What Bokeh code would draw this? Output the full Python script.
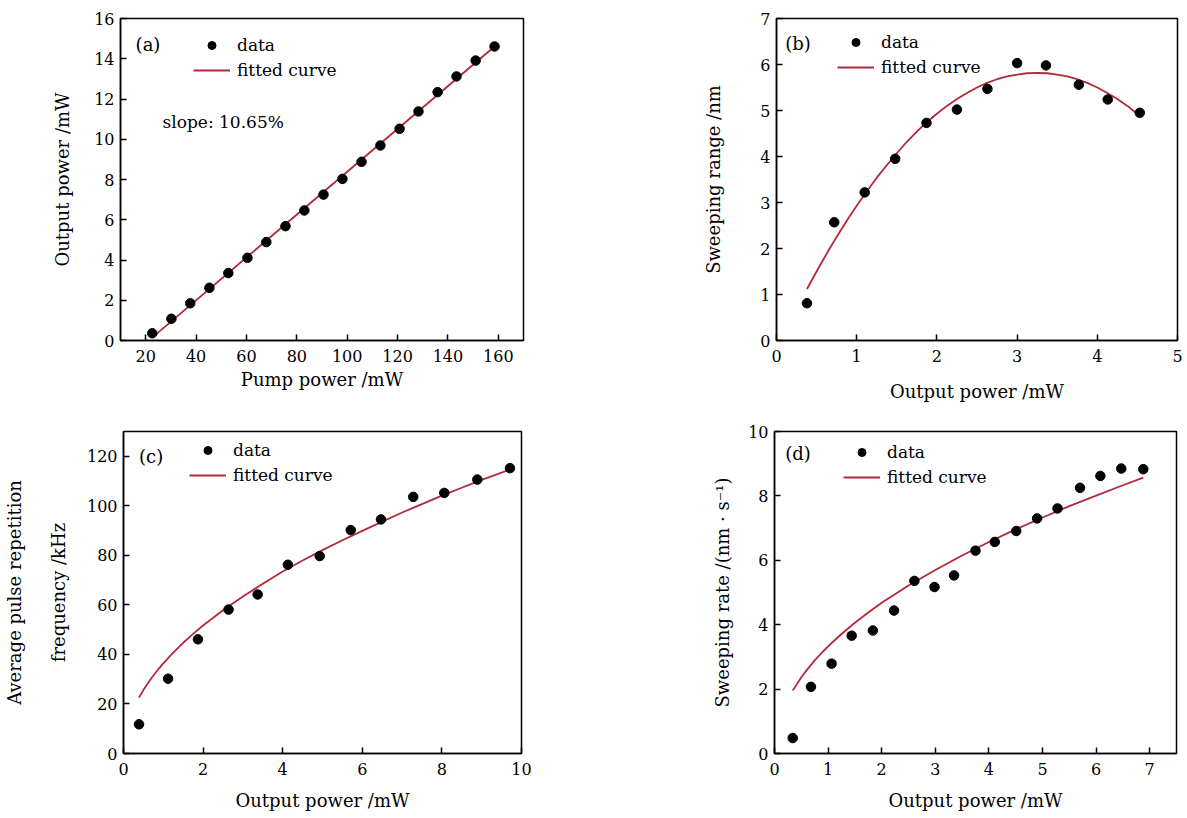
from bokeh.plotting import figure
from bokeh.layouts import column, row
from bokeh.models import Range1d, FixedTicker, Legend, LegendItem, Label
from bokeh.embed import file_html
from bokeh.resources import INLINE

# ---------------- data ----------------
# (a) output power vs pump power
a_pump = [22.6, 30.2, 37.7, 45.3, 52.8, 60.4, 67.9, 75.5, 83.0, 90.6,
          98.1, 105.7, 113.2, 120.8, 128.3, 135.9, 143.4, 151.0, 158.5]
a_out = [0.36, 1.08, 1.85, 2.62, 3.35, 4.11, 4.89, 5.68, 6.46, 7.25,
         8.03, 8.88, 9.69, 10.52, 11.38, 12.34, 13.12, 13.91, 14.61]
a_fit_x = [23.5, 158.5]
a_fit_y = [0.24, 14.61]

# (b) sweeping range vs output power
b_x = [0.38, 0.72, 1.10, 1.48, 1.87, 2.25, 2.63, 3.00, 3.36, 3.77, 4.13, 4.53]
b_y = [0.81, 2.57, 3.22, 3.95, 4.73, 5.02, 5.47, 6.03, 5.98, 5.56, 5.24, 4.95]
b_fit_x = [0.38, 0.5, 0.6, 0.7, 0.8, 0.9, 1.0, 1.125, 1.25, 1.375, 1.5, 1.625, 1.75,
           1.875, 2.0, 2.125, 2.25, 2.375, 2.5, 2.625, 2.75, 2.875, 3.0, 3.125,
           3.25, 3.375, 3.5, 3.625, 3.75, 3.875, 4.0, 4.125, 4.25, 4.375, 4.53]
b_fit_y = [1.12, 1.50, 1.81, 2.11, 2.39, 2.67, 2.93, 3.24, 3.54, 3.81, 4.07, 4.32, 4.54,
           4.75, 4.93, 5.10, 5.25, 5.38, 5.50, 5.60, 5.68, 5.74, 5.78, 5.81,
           5.82, 5.81, 5.78, 5.74, 5.68, 5.60, 5.50, 5.38, 5.25, 5.10, 4.88]

# (c) average pulse repetition frequency vs output power
c_x = [0.39, 1.12, 1.87, 2.64, 3.37, 4.13, 4.93, 5.71, 6.47, 7.28, 8.06, 8.89, 9.71]
c_y = [11.8, 30.2, 46.1, 58.1, 64.2, 76.2, 79.7, 90.2, 94.5, 103.6, 105.2, 110.6, 115.2]
c_fit_x = [0.39, 0.5, 0.6, 0.7, 0.8, 0.9, 1.0, 1.25, 1.5, 1.75, 2.0, 2.5, 3.0, 3.5,
           4.0, 4.5, 5.0, 5.5, 6.0, 6.5, 7.0, 7.5, 8.0, 8.5, 9.0, 9.71]
c_fit_y = [22.6, 25.6, 28.1, 30.4, 32.5, 34.5, 36.4, 40.7, 44.7, 48.3, 51.7, 57.8,
           63.4, 68.5, 73.5, 77.9, 82.1, 86.1, 89.9, 93.6, 97.3, 100.7, 104.1,
           107.3, 110.5, 114.6]

# (d) sweeping rate vs output power
d_x = [0.34, 0.68, 1.065, 1.44, 1.835, 2.23, 2.61, 2.985, 3.35, 3.75, 4.11, 4.51,
       4.90, 5.28, 5.70, 6.08, 6.47, 6.88]
d_y = [0.48, 2.07, 2.79, 3.66, 3.82, 4.44, 5.36, 5.17, 5.53, 6.30, 6.57, 6.91,
       7.30, 7.61, 8.25, 8.62, 8.85, 8.83]
d_fit_x = [0.34, 0.42, 0.5, 0.6, 0.75, 0.9, 1.0, 1.25, 1.5, 1.75, 2.0, 2.5, 3.0, 3.5,
           4.0, 4.5, 5.0, 5.5, 6.0, 6.5, 6.88]
d_fit_y = [1.96, 2.16, 2.37, 2.59, 2.89, 3.16, 3.33, 3.71, 4.06, 4.38, 4.68, 5.22,
           5.70, 6.15, 6.57, 6.96, 7.33, 7.68, 8.01, 8.33, 8.57]

FONT = "DejaVu Serif"
RED = "#B22A3A"


def make_panel(w, h, bl, br, bt, bb, xr, yr, xticks, yticks, xlabel, ylabel,
               xs, ys, fx, fy, tag, tag_xy, leg_loc, ylab_standoff, xlab_standoff):
    p = figure(width=w, height=h, output_backend="svg", toolbar_location=None,
               x_range=Range1d(*xr), y_range=Range1d(*yr),
               min_border_left=bl, min_border_right=br,
               min_border_top=bt, min_border_bottom=bb)
    p.grid.visible = False
    p.outline_line_color = "black"
    p.outline_line_width = 1.5
    p.outline_line_alpha = 1.0
    p.background_fill_color = "white"
    p.border_fill_color = "white"
    for ax, ticks, lab, so, lso in ((p.xaxis[0], xticks, xlabel, xlab_standoff, 9),
                                    (p.yaxis[0], yticks, ylabel, ylab_standoff, 6)):
        ax.ticker = FixedTicker(ticks=ticks)
        ax.axis_label = lab
        ax.axis_label_text_font = FONT
        ax.axis_label_text_font_size = "18px"
        ax.axis_label_text_font_style = "normal"
        ax.axis_label_text_color = "black"
        ax.axis_label_standoff = so
        ax.axis_label_text_line_height = 2.1
        ax.major_label_text_font = FONT
        ax.major_label_text_font_size = "16px"
        ax.major_label_text_color = "black"
        ax.major_label_standoff = lso
        ax.major_tick_in = 6
        ax.major_tick_out = 0
        ax.major_tick_line_width = 1.5
        ax.major_tick_line_color = "black"
        ax.minor_tick_line_color = None
        ax.axis_line_width = 1.5
        ax.axis_line_color = "black"

    ln = p.line(fx, fy, line_color=RED, line_width=1.8)
    sc = p.scatter(xs, ys, size=9.5, fill_color="black", line_color="black")

    leg = Legend(items=[LegendItem(label="data", renderers=[sc]),
                        LegendItem(label="fitted curve", renderers=[ln])],
                 location=leg_loc)
    leg.background_fill_alpha = 0
    leg.border_line_color = None
    leg.padding = 0
    leg.margin = 0
    leg.spacing = 5
    leg.glyph_width = 37
    leg.glyph_height = 20
    leg.label_height = 20
    leg.label_standoff = 7
    leg.label_text_font = FONT
    leg.label_text_font_size = "17px"
    leg.label_text_color = "black"
    p.add_layout(leg)

    p.add_layout(Label(x=tag_xy[0], y=tag_xy[1], text=tag, text_font=FONT,
                       text_font_size="18px", text_baseline="middle",
                       text_align="left", text_color="black"))
    return p


pa = make_panel(560, 409, 120, 37, 18, 69, (10, 170), (0, 16),
                list(range(20, 161, 20)), list(range(0, 17, 2)),
                "Pump power /mW", "Output power /mW",
                a_pump, a_out, a_fit_x, a_fit_y, "(a)", (16, 14.7), (73, 260), 18, 4)
pa.add_layout(Label(x=26.7, y=10.85, text="slope: 10.65%", text_font=FONT,
                    text_font_size="17px", text_baseline="middle",
                    text_align="left", text_color="black"))

pb = make_panel(627, 409, 216, 10, 18, 69, (0, 5), (0, 7),
                list(range(0, 6)), list(range(0, 8)),
                "Output power /mW", "Sweeping range /nm",
                b_x, b_y, b_fit_x, b_fit_y, "(b)", (0.11, 6.45), (61, 263), 33, 16)

pc = make_panel(560, 409, 120, 39, 22, 65, (0, 10), (0, 130),
                list(range(0, 11, 2)), list(range(0, 121, 20)),
                "Output power /mW", "Average pulse repetition\nfrequency /kHz",
                c_x, c_y, c_fit_x, c_fit_y, "(c)", (0.39, 120), (66, 268), 15, 12)

pd = make_panel(627, 409, 214, 11, 22, 65, (0, 7.5), (0, 10),
                list(range(0, 8)), list(range(0, 11, 2)),
                "Output power /mW", "Sweeping rate /(nm · s⁻¹)",
                d_x, d_y, d_fit_x, d_fit_y, "(d)", (0.2, 9.31), (69, 266), 12, 12)

layout = column(row(pa, pb), row(pc, pd))
open("out.html", "w").write(file_html(layout, INLINE))
